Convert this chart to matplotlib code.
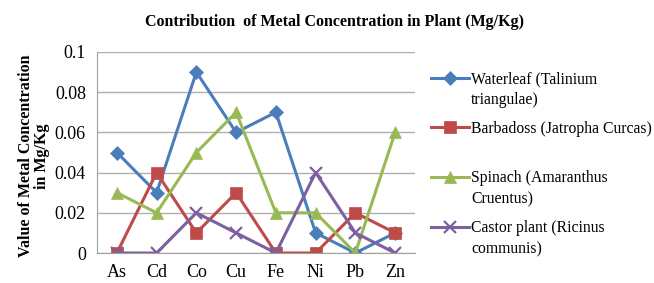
import matplotlib
matplotlib.use('Agg')
import matplotlib.pyplot as plt
import numpy as np

metals = ['As', 'Cd', 'Co', 'Cu', 'Fe', 'Ni', 'Pb', 'Zn']
waterleaf = [0.05, 0.03, 0.09, 0.06, 0.07, 0.01, 0.0, 0.01]
barbadoss = [0.0, 0.04, 0.01, 0.03, 0.0, 0.0, 0.02, 0.01]
spinach = [0.03, 0.02, 0.05, 0.07, 0.02, 0.02, 0.0, 0.06]
castor = [0.0, 0.0, 0.02, 0.01, 0.0, 0.04, 0.01, 0.0]

labels_first = ['Waterleaf (Talinium', 'Barbadoss (Jatropha Curcas)',
                'Spinach (Amaranthus', 'Castor plant (Ricinus']
labels_second = ['triangulae)', '', 'Cruentus)', 'communis)']

plt.rcParams['font.family'] = ['Liberation Serif', 'DejaVu Serif']

W, H = 654, 283
fig = plt.figure(figsize=(W / 100, H / 100), dpi=100)
ax = fig.add_axes([97 / W, 1 - 253 / H, (415 - 97) / W, (253 - 52) / H])

x = np.arange(len(metals))
series = [
    (waterleaf, '#4A7EBB', 'D', 7),
    (barbadoss, '#BE4B48', 's', 8),
    (spinach, '#98B954', '^', 9),
    (castor, '#7D60A0', 'x', 9),
]
lines = []
for vals, col, mk, ms in series:
    ln, = ax.plot(x, vals, color=col, lw=2.2, marker=mk, markersize=ms,
                  markeredgewidth=1.6 if mk == 'x' else 0.5, markeredgecolor=col)
    lines.append(ln)

ax.set_xlim(-0.5, len(metals) - 0.5)
ax.set_ylim(0, 0.1)
ax.set_yticks([0, 0.02, 0.04, 0.06, 0.08, 0.1])
ax.set_yticklabels(['0', '0.02', '0.04', '0.06', '0.08', '0.1'])
ax.set_xticks(x)
ax.set_xticklabels(metals)
ax.tick_params(axis='both', length=0, labelsize=13, pad=8)
ax.grid(axis='y', color='#B0B0B0', lw=1)
ax.set_axisbelow(True)
for s in ['top', 'right']:
    ax.spines[s].set_visible(False)
for s in ['left', 'bottom']:
    ax.spines[s].set_color('#A0A0A0')

fig.text(0.511, 1 - 22 / H, 'Contribution  of Metal Concentration in Plant (Mg/Kg)',
         ha='center', va='center', fontsize=11.5, fontweight='bold')
fig.text(34 / W, 1 - 156 / H, 'Value of Metal Concentration\nin Mg/Kg',
         rotation=90, ha='center', va='center', fontsize=11.5, fontweight='bold',
         linespacing=1.05)

leg = fig.legend(lines, labels_first, loc='upper left',
                 bbox_to_anchor=(431 / W, 1 - 71 / H), frameon=False,
                 fontsize=11.3, labelspacing=2.15, handlelength=2.4,
                 handletextpad=0.15, borderaxespad=0, borderpad=0)
fig.canvas.draw()
for t, extra in zip(leg.get_texts(), labels_second):
    if extra:
        bb = t.get_window_extent()
        fig.text(bb.x0 / W, (bb.y0 - 21) / H, extra, fontsize=11.3,
                 ha='left', va='bottom')

fig.savefig('out.png', dpi=100)
